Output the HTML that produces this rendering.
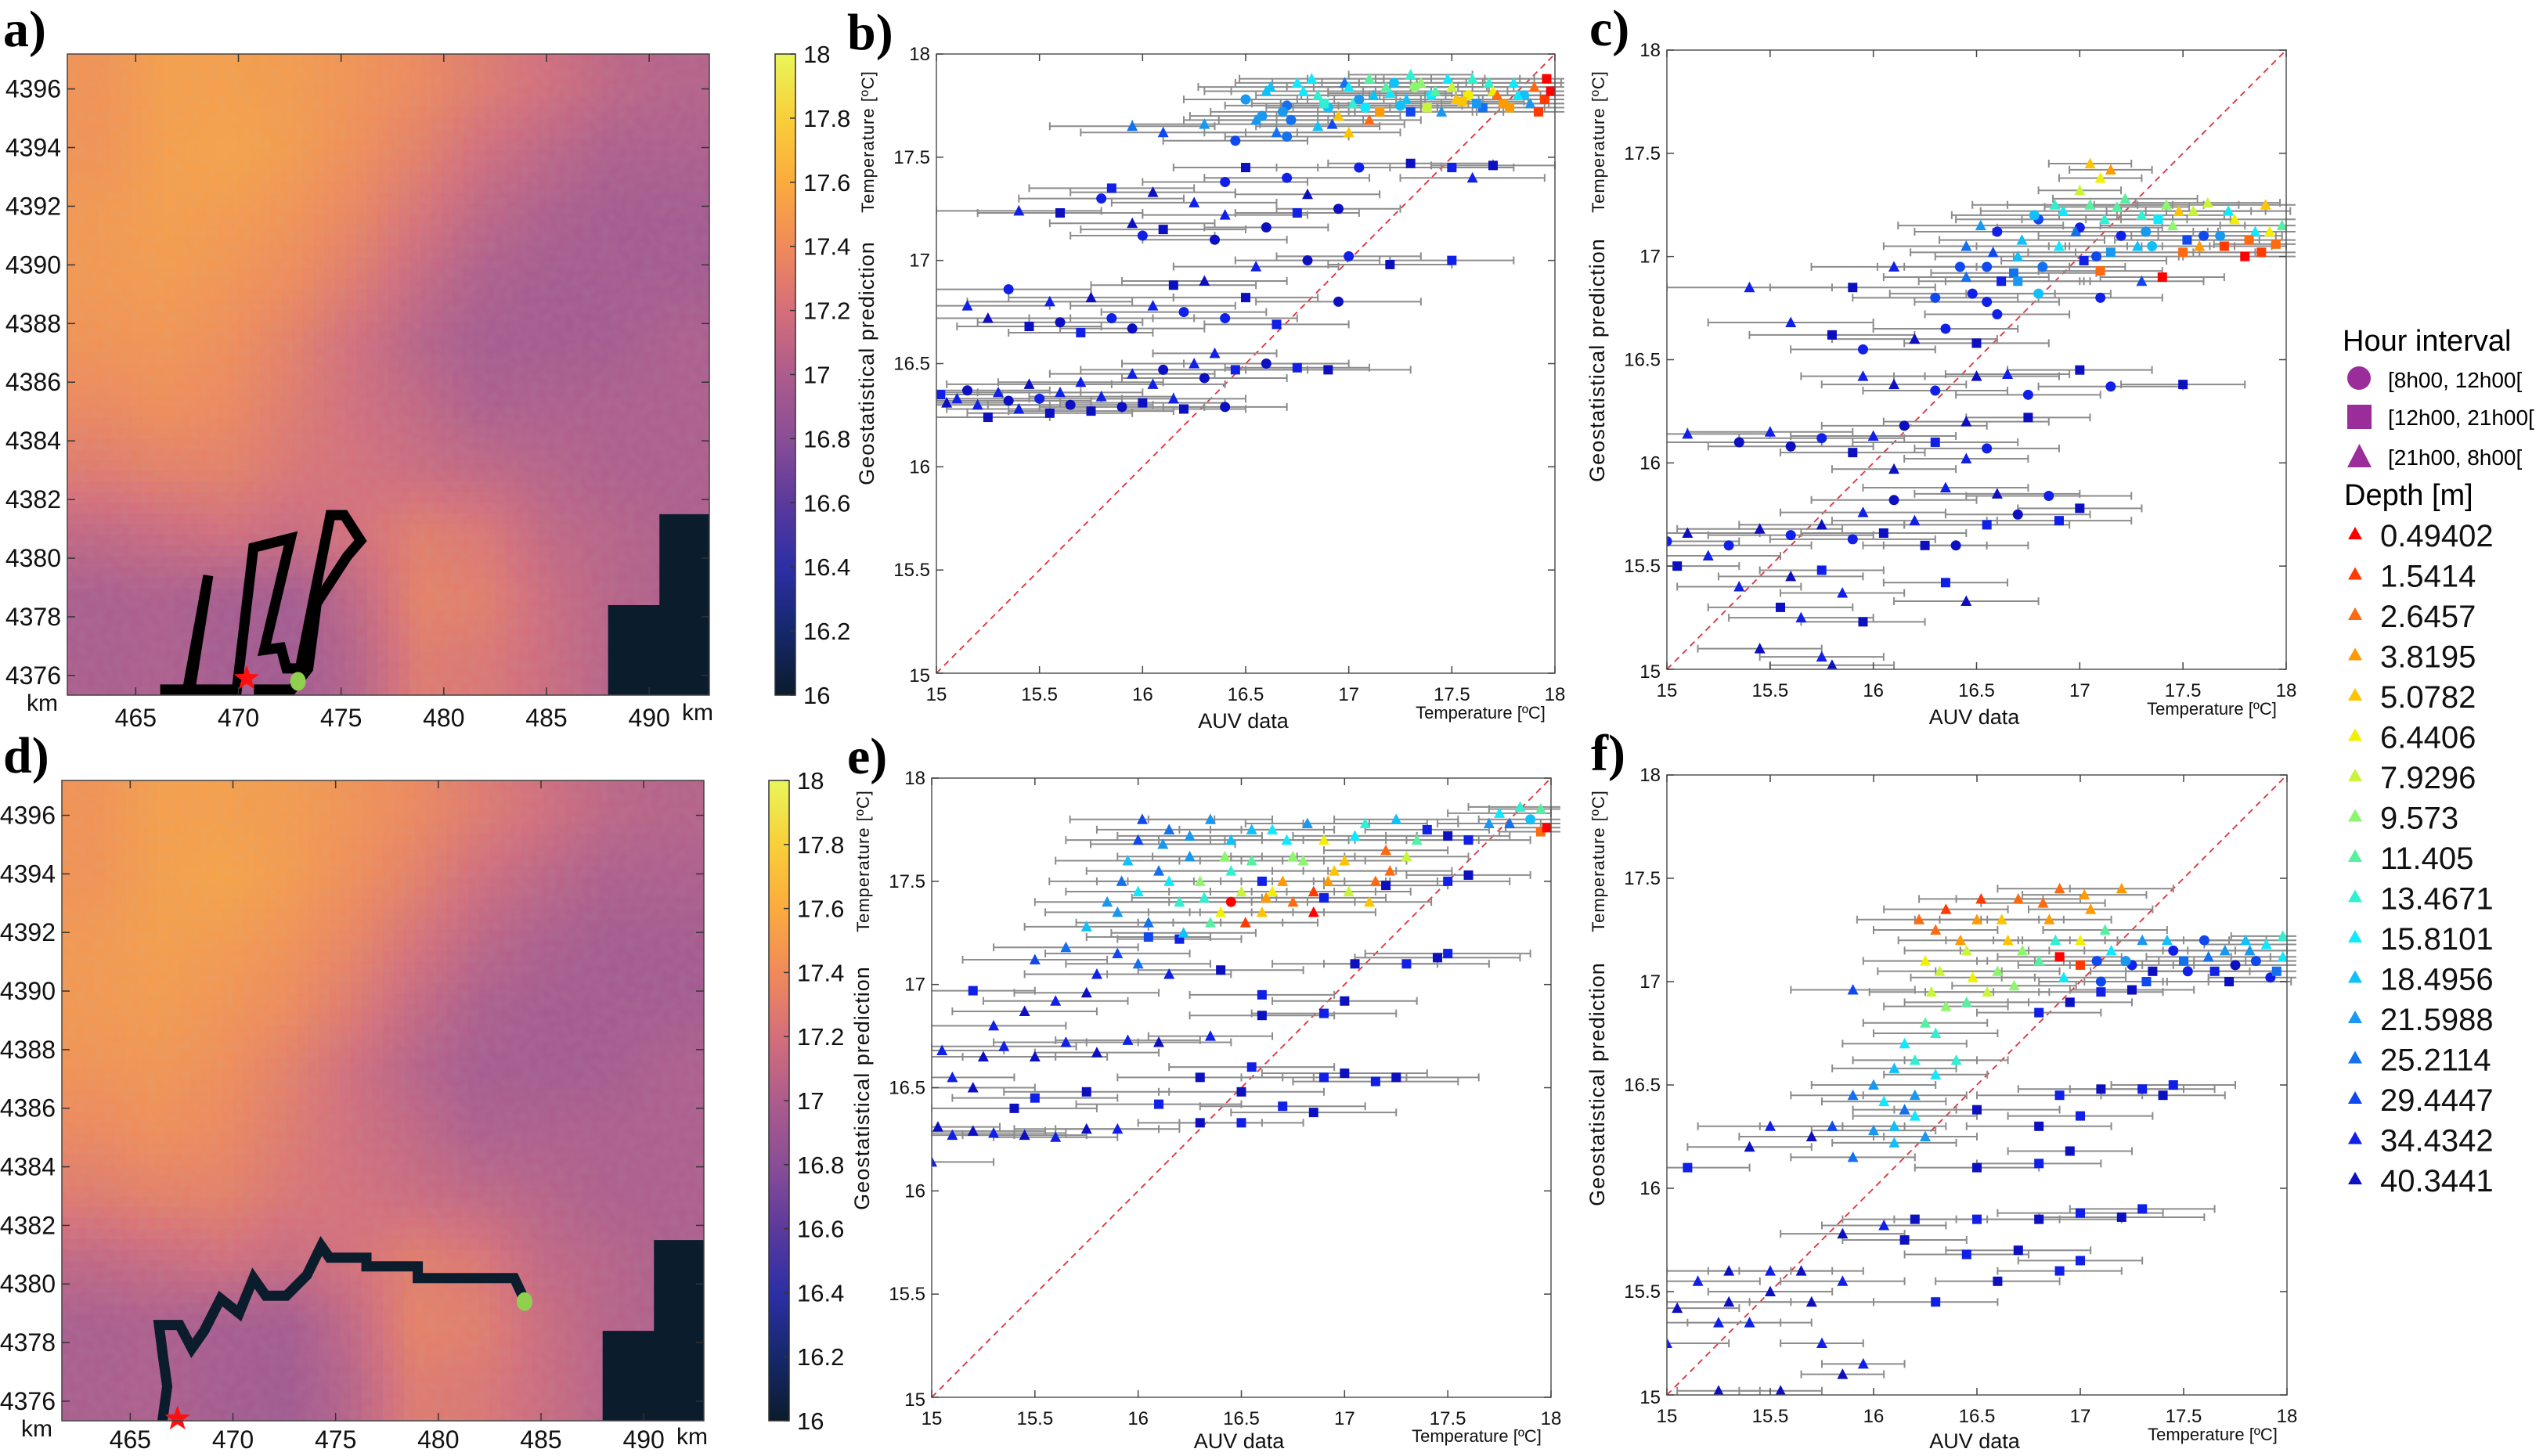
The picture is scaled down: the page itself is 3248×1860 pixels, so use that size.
<!DOCTYPE html>
<html><head><meta charset="utf-8"><style>
html,body{margin:0;padding:0;background:#fff;width:3248px;height:1860px;overflow:hidden;}
svg{display:block;font-family:"Liberation Sans",sans-serif;overflow:hidden;}
</style></head><body>
<svg id="fig" width="3248" height="1860" viewBox="0 0 3248 1860" xmlns="http://www.w3.org/2000/svg">
<defs>
<filter id="noise" x="0" y="0" width="1" height="1"><feTurbulence type="fractalNoise" baseFrequency="0.09" numOctaves="1" seed="3"/><feColorMatrix type="matrix" values="0 0 0 0 0.5  0 0 0 0 0.5  0 0 0 0 0.5  0 0 0 0.5 0"/></filter>
<linearGradient id="cbgrad" x1="0" y1="1" x2="0" y2="0">
<stop offset="0" stop-color="#0b1c2c"/><stop offset="0.1" stop-color="#15286c"/><stop offset="0.2" stop-color="#2d2fa6"/><stop offset="0.3" stop-color="#5b3a9c"/><stop offset="0.4" stop-color="#8a4e96"/><stop offset="0.5" stop-color="#ad5c8c"/><stop offset="0.6" stop-color="#d56e7a"/><stop offset="0.7" stop-color="#f08a5a"/><stop offset="0.8" stop-color="#fbab3e"/><stop offset="0.9" stop-color="#f9cf3a"/><stop offset="1" stop-color="#e9f65a"/>
</linearGradient>
</defs>
<g id="root"></g>
<g font-family="Liberation Sans, sans-serif">
<text x="2992" y="448" font-size="38">Hour interval</text>
<circle cx="3013" cy="483" r="15" fill="#9b2d9b"/>
<text x="3050" y="495" font-size="28">[8h00, 12h00[</text>
<rect x="2998" y="517" width="31" height="31" fill="#9b2d9b"/>
<text x="3050" y="543" font-size="28">[12h00, 21h00[</text>
<polygon points="2998,597 3029,597 3013.5,567" fill="#9b2d9b"/>
<text x="3050" y="594" font-size="28">[21h00, 8h00[</text>
<text x="2994" y="645" font-size="38">Depth [m]</text>
<g id="depthLegend"></g>
</g>
</svg>
<script>
// ---------- data ----------
const depthLabels = ["0.49402","1.5414","2.6457","3.8195","5.0782","6.4406","7.9296","9.573","11.405","13.4671","15.8101","18.4956","21.5988","25.2114","29.4447","34.4342","40.3441"];
const depthColors = ["#ff0000","#ff3a00","#ff6a10","#ff9a00","#ffc400","#f2f000","#c8f53a","#8ef56e","#55f0a0","#2ff0d0","#10e8ff","#10c0f8","#1898f0","#1570ee","#1048f0","#1020e8","#0d10c0"];
const cbTicks = [16,16.2,16.4,16.6,16.8,17,17.2,17.4,17.6,17.8,18];
const mapXTicks = [465,470,475,480,485,490];
const mapYTicks = [4376,4378,4380,4382,4384,4386,4388,4390,4392,4394,4396];
const scTicks = [15,15.5,16,16.5,17,17.5,18];
// SST field grid (rows top->bottom, cols left->right), degC
const sstRow0 = [17.45,17.52,17.52,17.5,17.45,17.38,17.28,17.18,17.08,17.04];
const sstRow1 = [17.45,17.52,17.55,17.5,17.42,17.32,17.18,17.08,17.0,17.0];
const sstRow2 = [17.48,17.52,17.5,17.45,17.36,17.22,17.08,17.0,16.95,16.95];
const sstRow3 = [17.48,17.5,17.46,17.4,17.28,17.12,17.0,16.95,16.95,16.95];
const sstRow4 = [17.45,17.46,17.42,17.32,17.18,17.05,16.96,16.95,16.95,17.0];
const sstRow5 = [17.38,17.42,17.38,17.28,17.18,17.1,17.0,17.0,17.0,17.0];
const sstRow6 = [17.28,17.32,17.32,17.24,17.2,17.15,17.1,17.05,17.0,17.0];
const sstRow7 = [17.1,17.14,17.18,17.14,17.2,17.3,17.25,17.1,17.05,17.0];
const sstRow8 = [16.98,17.0,16.96,16.95,17.1,17.33,17.3,17.15,17.05,17.0];
const sstRow9 = [16.98,17.0,16.95,16.93,17.05,17.28,17.25,17.15,17.05,17.0];
// AUV tracks (km)
const trackAx = [466.44,467.52,468.53,467.65,469.92,470.73,472.55,471.26,472.07,472.34,473.0,473.4,474.48,475.15,475.95,475.28,473.81,473.4,472.6,471.0];
const trackAy = [4375.52,4375.52,4379.41,4375.52,4375.52,4380.36,4380.68,4376.87,4376.95,4376.24,4376.24,4377.67,4381.47,4381.47,4380.6,4380.05,4378.46,4376.24,4375.52,4375.52];
const trackDx = [466.6,466.8,466.6,466.4,467.4,468.0,468.6,469.4,470.3,471.0,471.6,472.6,473.6,474.3,474.7,476.5,476.5,479.0,479.0,483.7,484.1];
const trackDy = [4375.5,4376.5,4377.5,4378.6,4378.6,4377.8,4378.4,4379.5,4379.0,4380.2,4379.6,4379.6,4380.3,4381.3,4380.9,4380.9,4380.6,4380.6,4380.2,4380.2,4379.6];
// scatter panels: AUV x, prediction y, error half-width, shape (0 circle,1 square,2 triangle), depth index
const bX=[15.02,15.05,15.1,15.15,15.2,15.25,15.3,15.35,15.4,15.45,15.5,15.55,15.6,15.65,15.7,15.75,15.8,15.9,15.95,16.0,16.05,16.1,16.15,16.2,16.25,16.3,16.35,16.4,16.45,16.6,16.75,16.9,15.15,15.25,15.35,15.45,15.55,15.6,15.7,15.75,15.85,15.95,16.05,16.15,16.2,16.3,16.4,16.5,16.65,16.95,16.55,16.8,17.0,17.2,17.5,15.4,15.6,15.8,15.95,16.0,16.1,16.25,16.35,16.4,16.6,16.75,16.95,15.85,16.05,16.4,16.5,16.7,16.8,17.05,17.3,17.5,17.7,17.6,15.95,16.1,16.3,16.45,16.55,16.7,16.85,17.0,17.1,17.3,16.5,16.6,16.7,16.75,16.85,16.9,17.0,17.05,17.1,17.2,17.25,17.35,17.4,17.5,17.55,17.6,17.7,17.75,17.8,17.85,17.9,17.95,17.98,16.95,17.15,17.45,17.65,17.3];
const bY=[16.35,16.31,16.33,16.37,16.30,16.24,16.36,16.32,16.28,16.40,16.33,16.26,16.36,16.30,16.41,16.27,16.34,16.29,16.45,16.31,16.40,16.47,16.33,16.28,16.50,16.43,16.55,16.29,16.47,16.50,16.48,16.47,16.78,16.72,16.86,16.68,16.80,16.70,16.65,16.82,16.72,16.67,16.78,16.88,16.75,16.90,16.72,16.82,16.69,16.80,16.97,17.0,17.02,16.98,17.0,17.24,17.23,17.30,17.18,17.12,17.15,17.28,17.10,17.22,17.16,17.23,17.25,17.35,17.33,17.38,17.45,17.40,17.32,17.45,17.47,17.45,17.46,17.40,17.65,17.62,17.66,17.58,17.68,17.60,17.65,17.62,17.68,17.72,17.78,17.82,17.75,17.86,17.80,17.74,17.84,17.78,17.88,17.81,17.75,17.86,17.80,17.84,17.77,17.88,17.82,17.76,17.86,17.80,17.84,17.78,17.82,17.70,17.72,17.72,17.74,17.90];
const bE=[.3,.3,.35,.4,.35,.3,.4,.4,.35,.4,.4,.4,.4,.4,.4,.4,.35,.4,.4,.4,.35,.4,.35,.3,.35,.4,.3,.3,.35,.4,.35,.4,.4,.4,.4,.35,.4,.4,.35,.4,.4,.35,.4,.4,.4,.4,.35,.35,.35,.4,.4,.35,.35,.3,.3,.4,.4,.4,.4,.35,.4,.4,.35,.4,.3,.3,.3,.4,.4,.4,.35,.4,.35,.4,.4,.3,.3,.35,.4,.4,.35,.35,.35,.3,.3,.25,.25,.3,.3,.3,.3,.3,.3,.3,.3,.3,.3,.3,.3,.3,.3,.3,.3,.3,.3,.3,.3,.3,.3,.3,.3,.3,.3,.3,.3,.3];
const bS=[1,2,2,0,2,1,2,0,2,2,0,1,2,0,2,1,2,0,2,1,2,0,2,1,2,0,2,0,1,0,1,1,2,2,0,1,2,0,1,2,0,0,2,1,0,2,0,1,1,0,2,0,0,1,1,2,1,0,2,0,1,2,0,2,0,1,0,1,2,0,1,0,2,0,1,1,1,2,2,2,2,0,2,0,2,2,2,1,0,2,0,2,2,0,2,0,2,2,0,2,0,2,1,2,2,1,2,0,2,1,1,2,1,2,1,2];
const bD=[15,16,15,16,15,16,15,16,15,16,15,16,15,16,15,16,15,16,15,16,15,16,15,16,15,16,15,16,15,16,15,16,15,16,15,16,15,16,15,16,15,16,15,16,15,16,15,16,15,16,15,16,15,16,15,15,16,15,16,15,16,15,16,15,16,15,16,15,16,15,16,15,16,15,16,15,16,15,13,14,12,14,12,13,11,4,2,14,12,11,13,10,9,11,10,12,8,10,11,7,10,6,4,9,5,3,10,11,2,1,0,4,3,12,13,9];
const bX2=[16.62,16.68,16.78,16.88,16.98,17.08,17.18,17.28,17.38,17.48,17.58,17.68,17.78,17.88,17.96,16.72,16.92,17.12,17.32,17.52,17.72,17.92,16.58,16.82,17.02,17.22,17.42,17.62,17.82,16.65];
const bY2=[17.84,17.72,17.82,17.76,17.86,17.74,17.84,17.78,17.74,17.88,17.8,17.86,17.74,17.76,17.88,17.68,17.66,17.8,17.84,17.78,17.8,17.72,17.7,17.88,17.76,17.86,17.82,17.76,17.8,17.62];
const bE2=[.35,.35,.35,.35,.35,.35,.35,.35,.35,.35,.35,.35,.35,.3,.3,.35,.35,.35,.35,.35,.35,.3,.35,.35,.35,.35,.35,.35,.3,.35];
const bS2=[2,0,2,1,2,0,2,2,1,2,0,2,1,2,1,0,2,2,0,2,2,1,0,2,2,0,2,1,2,2];
const bD2=[11,12,10,9,13,10,8,11,6,10,5,9,3,12,0,13,14,11,7,4,2,1,12,10,9,11,8,12,10,13];
const cX=[15.8,15.75,15.45,15.65,15.95,15.85,15.55,15.35,15.6,16.35,16.45,15.75,15.05,15.2,16.25,15.0,15.1,15.3,15.45,15.6,15.75,15.9,16.05,16.2,16.4,16.55,16.7,16.9,17.0,16.85,16.6,16.35,16.1,15.95,15.1,15.35,15.5,15.6,15.75,15.9,16.0,16.15,16.3,16.45,16.55,16.1,16.45,16.75,15.95,16.1,16.3,16.5,16.75,17.0,17.15,17.5,16.65,15.6,15.8,15.95,16.2,16.35,16.5,16.6,15.4,15.9,16.1,16.3,16.45,16.55,16.7,16.8,17.1,17.3,16.45,16.6,16.7,16.8,16.9,17.0,17.05,17.15,17.2,17.3,17.35,17.45,17.5,17.55,17.6,17.7,17.75,17.8,17.85,17.9,17.95,17.98,17.05,17.1,17.0,17.15,17.4,17.1,16.55];
const cY=[15.02,15.06,15.1,15.25,15.23,15.37,15.3,15.4,15.45,15.42,15.33,15.48,15.5,15.55,15.6,15.62,15.66,15.6,15.68,15.65,15.7,15.63,15.66,15.72,15.6,15.7,15.75,15.72,15.78,15.84,15.85,15.88,15.82,15.76,16.14,16.1,16.15,16.08,16.12,16.05,16.13,16.18,16.1,16.2,16.07,15.97,16.02,16.22,16.42,16.38,16.35,16.42,16.33,16.45,16.37,16.38,16.43,16.68,16.62,16.55,16.6,16.65,16.58,16.72,16.85,16.85,16.95,16.8,16.9,16.78,16.88,16.82,16.8,16.88,17.05,17.12,17.0,17.18,17.05,17.14,17.25,17.02,17.1,17.2,17.05,17.15,17.02,17.22,17.1,17.05,17.18,17.0,17.12,17.25,17.06,17.15,17.45,17.38,17.32,17.42,16.9,16.93,16.95];
const cE=[.3,.3,.3,.35,.3,.3,.35,.3,.35,.3,.35,.3,.3,.35,.3,.35,.35,.4,.4,.4,.4,.4,.4,.4,.35,.4,.35,.35,.3,.4,.4,.4,.4,.4,.4,.4,.4,.4,.4,.35,.4,.4,.4,.4,.35,.3,.3,.3,.3,.35,.35,.4,.35,.35,.35,.3,.3,.4,.4,.35,.4,.35,.35,.35,.4,.4,.4,.4,.4,.35,.35,.35,.3,.3,.4,.4,.4,.4,.4,.4,.4,.4,.4,.4,.4,.35,.35,.35,.35,.3,.3,.3,.3,.3,.3,.3,.2,.2,.2,.2,.3,.3,.4];
const cS=[2,2,2,2,1,2,1,2,2,1,2,1,1,2,1,0,2,0,2,0,2,0,1,2,0,1,0,1,1,0,2,2,0,2,2,0,2,0,0,1,2,0,1,2,0,2,2,1,2,2,0,2,0,1,0,1,2,2,1,0,2,0,1,0,2,1,2,0,2,0,1,0,0,2,2,0,2,0,2,0,2,1,0,2,0,2,1,2,0,1,2,1,2,2,1,2,2,2,2,2,1,1,0];
const cD=[16,15,16,15,16,15,16,15,16,15,16,15,16,15,16,15,16,15,16,15,16,15,16,15,16,15,16,15,16,15,16,15,16,15,15,16,15,16,15,16,15,16,15,16,15,16,15,16,15,16,15,16,15,16,15,16,15,15,16,15,16,15,16,15,15,16,15,14,13,15,12,11,15,14,13,15,11,14,10,15,8,12,15,9,11,7,2,6,14,1,5,0,10,4,2,8,4,5,6,3,0,2,14];
const cX2=[16.42,16.52,16.62,16.72,16.82,16.92,17.02,17.12,17.22,17.32,17.42,17.52,17.62,17.72,17.82,17.92,16.48,16.68,16.88,17.08,17.28,17.48,17.68,17.88,16.58,16.78,16.98,17.18,17.38,17.58];
const cY2=[16.95,17.15,16.88,17.08,16.95,17.22,16.98,17.18,17.28,17.12,17.25,17.08,17.26,17.22,17.08,17.12,16.82,16.92,17.25,17.0,17.05,17.22,17.1,17.02,17.02,17.2,17.12,17.24,17.18,17.05];
const cE2=[.4,.4,.4,.4,.4,.4,.4,.4,.35,.35,.35,.35,.35,.3,.3,.3,.4,.4,.4,.4,.35,.35,.3,.3,.4,.4,.4,.35,.35,.35];
const cS2=[0,2,1,2,0,2,1,2,2,0,2,1,2,2,1,2,0,1,2,0,2,2,0,1,2,0,2,2,1,2];
const cD2=[14,12,15,11,13,10,15,9,8,12,7,14,6,10,2,5,15,13,9,14,11,4,12,1,14,11,13,8,10,3];
const eX=[15.0,15.03,15.1,15.2,15.3,15.45,15.6,15.75,15.9,16.3,16.5,15.4,15.5,15.75,16.1,16.5,16.7,16.85,16.9,17.0,17.15,17.25,16.55,16.3,15.1,15.2,15.05,15.25,15.35,15.5,15.65,15.8,15.95,16.1,16.35,15.3,15.45,15.6,15.75,15.2,16.6,16.9,17.0,16.6,17.05,17.3,17.45,17.5,16.4,15.5,15.65,15.8,15.9,16.0,16.15,16.05,16.2,15.75,15.9,16.0,16.1,16.2,16.25,16.3,16.4,16.45,16.5,16.55,16.6,16.65,16.7,16.75,16.8,16.85,16.9,17.0,17.1,17.2,17.25,16.15,16.35,16.0,16.45,16.6,16.9,17.2,17.5,17.6,17.4,17.5,17.6,17.7,17.75,17.8,17.85,17.9,17.95,17.98,17.95];
const eY=[16.14,16.31,16.27,16.29,16.28,16.27,16.26,16.3,16.3,16.33,16.33,16.4,16.45,16.48,16.42,16.48,16.41,16.38,16.55,16.57,16.53,16.55,16.6,16.55,16.55,16.5,16.68,16.65,16.7,16.65,16.72,16.67,16.73,16.72,16.75,16.8,16.87,16.92,16.96,16.97,16.85,16.86,16.92,16.95,17.1,17.1,17.13,17.15,17.07,17.12,17.18,17.05,17.15,17.1,17.05,17.23,17.22,17.28,17.35,17.45,17.55,17.4,17.62,17.5,17.35,17.7,17.45,17.6,17.35,17.75,17.5,17.4,17.6,17.45,17.7,17.6,17.78,17.65,17.8,17.75,17.8,17.7,17.4,17.5,17.42,17.48,17.5,17.53,17.75,17.72,17.7,17.78,17.83,17.78,17.86,17.8,17.85,17.76,17.74];
const eE=[.3,.3,.3,.35,.35,.3,.3,.35,.3,.3,.3,.4,.4,.4,.4,.4,.4,.4,.4,.4,.4,.4,.4,.4,.3,.3,.3,.35,.35,.35,.35,.3,.35,.35,.3,.35,.35,.35,.35,.3,.35,.35,.35,.35,.4,.4,.4,.4,.4,.35,.35,.35,.35,.35,.3,.3,.3,.3,.35,.35,.35,.35,.35,.35,.35,.35,.35,.35,.3,.3,.3,.3,.3,.3,.3,.3,.3,.3,.3,.35,.3,.35,.3,.3,.3,.3,.3,.3,.3,.3,.3,.25,.25,.25,.25,.25,.25,.2,.2];
const eS=[2,2,2,2,2,2,2,2,2,1,1,1,1,1,1,1,1,1,1,1,1,1,1,1,2,2,2,2,2,2,2,2,2,2,2,2,2,2,2,1,1,1,1,1,1,1,1,1,1,2,2,2,2,2,2,1,1,2,2,2,2,2,2,2,2,2,2,2,2,2,2,2,2,2,2,2,2,2,2,2,2,2,0,1,1,1,1,1,1,1,1,2,2,2,2,0,2,1,1];
const eD=[15,16,15,16,15,16,15,16,15,16,15,16,15,16,15,16,15,16,15,16,15,16,15,16,15,16,15,16,15,16,15,16,15,16,15,15,16,15,16,15,16,15,16,15,16,15,16,15,16,14,13,15,14,13,15,14,15,11,12,10,13,9,12,7,5,11,6,8,4,10,3,2,7,1,5,4,9,2,11,13,12,14,0,15,15,16,15,16,15,16,15,12,10,13,9,11,8,0,2];
const eX2=[15.85,15.95,16.05,16.15,16.25,16.35,16.45,16.55,16.65,16.75,16.85,16.95,17.05,17.15,17.3,15.92,16.12,16.32,16.52,16.72,16.92,17.12,16.02,16.22,16.42,16.62,16.82,17.02,17.22,17.35];
const eY2=[17.4,17.6,17.3,17.5,17.72,17.3,17.55,17.75,17.45,17.62,17.35,17.55,17.72,17.5,17.62,17.5,17.68,17.42,17.3,17.7,17.5,17.4,17.8,17.25,17.62,17.42,17.78,17.45,17.55,17.7];
const eE2=[.35,.35,.35,.35,.35,.35,.35,.35,.3,.3,.3,.3,.3,.3,.3,.35,.35,.35,.35,.3,.3,.3,.35,.35,.35,.3,.3,.3,.3,.3];
const eS2=[2,2,2,2,2,2,2,2,2,2,2,2,2,2,2,2,2,2,2,2,2,2,2,2,2,2,2,2,2,2];
const eD2=[12,11,13,10,12,8,9,11,5,7,0,4,10,2,6,13,12,9,1,10,3,4,14,11,7,3,12,6,2,8];
const fX=[15.25,15.0,15.05,15.15,15.3,15.4,15.5,15.25,15.3,15.5,15.7,15.85,15.85,15.95,15.55,15.75,15.65,16.3,16.6,16.9,16.15,16.45,16.7,17.0,16.2,16.5,16.8,17.0,17.2,17.3,15.85,16.05,15.1,15.4,15.5,15.7,15.8,15.9,16.0,16.1,16.2,16.5,16.8,16.95,17.0,16.5,16.9,17.1,17.3,17.4,17.45,16.8,15.9,16.0,16.1,16.15,16.2,16.25,16.3,16.35,16.45,16.55,16.05,16.8,16.95,17.1,17.25,15.9,16.25,16.3,16.35,16.45,16.5,16.6,16.65,16.7,16.8,16.85,16.9,17.0,17.05,17.1,17.15,17.2,17.25,17.3,17.35,17.45,17.5,17.6,17.65,17.7,17.75,17.8,17.85,17.9,17.95,17.98,16.9,17.0];
const fY=[15.02,15.25,15.42,15.55,15.45,15.35,15.5,15.35,15.6,15.6,15.45,15.55,15.1,15.15,15.02,15.25,15.6,15.45,15.55,15.6,15.75,15.68,15.7,15.65,15.85,15.85,15.85,15.88,15.86,15.9,15.78,15.82,16.1,16.2,16.3,16.25,16.3,16.15,16.28,16.22,16.35,16.1,16.12,16.18,16.35,16.38,16.45,16.48,16.48,16.45,16.5,16.3,16.45,16.5,16.58,16.7,16.62,16.8,16.75,16.88,16.9,16.95,16.42,16.85,16.9,16.95,16.96,16.96,17.1,17.25,17.35,17.15,17.3,17.05,17.2,17.4,17.1,17.3,17.45,17.2,17.35,17.0,17.15,17.45,17.08,17.2,17.05,17.15,17.1,17.2,17.05,17.15,17.08,17.2,17.1,17.18,17.05,17.22,17.12,17.08];
const fE=[.2,.3,.3,.3,.3,.3,.3,.3,.3,.3,.3,.3,.2,.2,.2,.2,.3,.3,.3,.3,.3,.3,.35,.3,.35,.4,.4,.4,.4,.35,.3,.3,.3,.3,.35,.35,.35,.3,.3,.3,.3,.3,.3,.3,.35,.4,.4,.4,.35,.3,.3,.35,.3,.3,.3,.3,.3,.3,.3,.3,.3,.3,.3,.3,.3,.3,.3,.3,.3,.3,.3,.3,.3,.3,.3,.3,.3,.3,.3,.3,.3,.3,.3,.25,.3,.3,.3,.3,.3,.3,.3,.3,.3,.3,.3,.3,.3,.25,.3,.3];
const fS=[2,2,2,2,2,2,2,2,2,2,2,2,2,2,2,2,2,1,1,1,1,1,1,1,1,1,1,1,1,1,2,2,1,2,2,2,2,2,2,2,2,1,1,1,1,1,1,1,1,1,1,1,2,2,2,2,2,2,2,2,2,2,2,1,1,1,1,2,2,2,2,2,2,2,2,2,2,2,2,2,2,0,2,2,0,2,1,0,1,0,1,2,0,2,0,2,1,2,1,1];
const fD=[16,15,16,15,16,15,16,15,16,15,16,15,16,15,16,15,16,15,16,15,16,15,16,15,16,15,16,15,16,15,16,15,15,16,15,16,14,13,12,11,10,16,15,16,15,16,15,16,15,16,15,16,13,12,11,10,9,8,9,7,8,6,10,15,16,15,16,14,5,2,1,6,3,7,4,2,8,3,2,5,3,14,10,3,15,12,16,15,13,14,15,12,16,11,14,10,13,9,0,1];
const fX2=[16.22,16.32,16.42,16.52,16.62,16.72,16.82,16.92,17.02,17.12,17.22,17.32,17.42,17.52,17.62,17.72,17.82,17.92,17.98,16.28,16.48,16.68,16.88,17.08,16.1,16.2,16.3,16.4,16.15,16.25];
const fY2=[17.3,17.05,17.2,17.4,17.3,17.15,17.38,17.02,17.42,17.25,17.1,17.0,17.2,17.05,17.12,17.0,17.15,17.02,17.12,16.95,17.02,16.98,17.2,17.1,16.3,16.45,16.55,16.62,16.38,16.25];
const fE2=[.3,.3,.3,.3,.3,.3,.3,.3,.3,.3,.3,.3,.3,.3,.3,.3,.3,.3,.25,.3,.3,.3,.3,.3,.25,.25,.25,.25,.25,.25];
const fS2=[2,2,2,2,2,2,2,2,2,2,0,1,2,0,2,1,2,0,2,2,2,2,2,0,2,2,2,2,2,2];
const fD2=[2,6,3,1,4,7,2,10,3,8,12,14,11,15,13,16,12,15,10,6,5,7,9,14,11,12,10,9,13,12];

// ---------- helpers ----------
const NS="http://www.w3.org/2000/svg";
const root=document.getElementById('root');
function mk(tag,attrs,parent){const e=document.createElementNS(NS,tag);for(const k in attrs)e.setAttribute(k,attrs[k]);(parent||root).appendChild(e);return e;}
const cmapStops=[[16,[11,28,44]],[16.2,[21,40,108]],[16.4,[45,47,166]],[16.6,[91,58,156]],[16.8,[138,78,150]],[17,[173,92,140]],[17.2,[213,110,122]],[17.4,[240,138,90]],[17.6,[251,171,62]],[17.8,[249,207,58]],[18,[233,246,90]]];
function cmap(v){for(let i=0;i<cmapStops.length-1;i++){const a=cmapStops[i],b=cmapStops[i+1];if(v<=b[0]){const t=Math.max(0,(v-a[0])/(b[0]-a[0]));const c=a[1].map((x,j)=>Math.round(x+(b[1][j]-x)*t));return `rgb(${c})`;}}return 'rgb(233,246,90)';}

// ---------- map panels ----------
const sstGrid=[sstRow0,sstRow1,sstRow2,sstRow3,sstRow4,sstRow5,sstRow6,sstRow7,sstRow8,sstRow9];
function sstAt(u,v){ // u,v in [0,1] across grid, bilinear between cell centres
  const nr=sstGrid.length,nc=sstGrid[0].length;
  let fx=Math.min(Math.max(u*nc-0.5,0),nc-1),fy=Math.min(Math.max(v*nr-0.5,0),nr-1);
  const x0=Math.floor(fx),y0=Math.floor(fy),x1=Math.min(x0+1,nc-1),y1=Math.min(y0+1,nr-1),tx=fx-x0,ty=fy-y0;
  const a=sstGrid[y0][x0]*(1-tx)+sstGrid[y0][x1]*tx,b=sstGrid[y1][x0]*(1-tx)+sstGrid[y1][x1]*tx;
  return a*(1-ty)+b*ty;
}
function mapPanel(id,P,tx,ty,star,dot,trackColor,letter){
  const g=mk('g',{});
  
  
  const sx=v=>P.x0+(v-461.67)/(492.93-461.67)*(P.x1-P.x0);
  const sy=v=>P.y1-(v-4375.33)/(4397.19-4375.33)*(P.y1-P.y0);
  const cp=mk('clipPath',{id:id+'clip'},g);mk('rect',{x:P.x0,y:P.y0,width:P.x1-P.x0,height:P.y1-P.y0},cp);
  const hg=mk('g',{'clip-path':`url(#${id}clip)`},g);
  const N=60,cw=(P.x1-P.x0)/N,ch=(P.y1-P.y0)/N;
  for(let r=0;r<N;r++)for(let c=0;c<N;c++){
    const cell=mk('rect',{x:(P.x0+c*cw).toFixed(1),y:(P.y0+r*ch).toFixed(1),width:(cw+0.6).toFixed(1),height:(ch+0.6).toFixed(1),fill:cmap(sstAt((c+0.5)/N,(r+0.5)/N))},hg);
    
    
  }
  mk('rect',{x:P.x0,y:P.y0,width:P.x1-P.x0,height:P.y1-P.y0,filter:'url(#noise)',opacity:0.3},hg);
  const land=mk('path',{d:`M${sx(488)},${P.y1} L${sx(488)},${sy(4378.4)} L${sx(490.5)},${sy(4378.4)} L${sx(490.5)},${sy(4381.5)} L${P.x1},${sy(4381.5)} L${P.x1},${P.y1} Z`,fill:'#0b1c2c'},hg);
  
  
  const tr=mk('polyline',{points:tx.map((v,i)=>sx(v)+','+sy(ty[i])).join(' '),fill:'none',stroke:trackColor,'stroke-width':13,'stroke-linejoin':'miter','stroke-linecap':'square'},hg);
  
  
  const d=mk('ellipse',{cx:sx(dot[0]),cy:sy(dot[1]),rx:10,ry:12,fill:'#8fd14f'},hg);
  
  
  const cx=sx(star[0]),cy=sy(star[1]),R=17,r=7;let pts=[];
  for(let i=0;i<10;i++){const a=-Math.PI/2+i*Math.PI/5,rr=i%2?r:R;pts.push((cx+rr*Math.cos(a))+','+(cy+rr*Math.sin(a)));}
  const st=mk('polygon',{points:pts.join(' '),fill:'#ff1010'},g);
  
  
  mk('rect',{x:P.x0,y:P.y0,width:P.x1-P.x0,height:P.y1-P.y0,fill:'none',stroke:'#444','stroke-width':1.5},g);
  mapXTicks.forEach(t=>{const x=sx(t);mk('line',{x1:x,x2:x,y1:P.y1,y2:P.y1-10,stroke:'#333','stroke-width':1.5},g);mk('line',{x1:x,x2:x,y1:P.y0,y2:P.y0+10,stroke:'#333','stroke-width':1.5},g);
    const tl=mk('text',{x:x,y:Math.min(P.y1+40,1850),'font-size':32,'text-anchor':'middle',fill:'#111'},g);tl.textContent=t;
    
    });
  mapYTicks.forEach(t=>{const y=sy(t);mk('line',{x1:P.x0,x2:P.x0+10,y1:y,y2:y,stroke:'#333','stroke-width':1.5},g);mk('line',{x1:P.x1,x2:P.x1-10,y1:y,y2:y,stroke:'#333','stroke-width':1.5},g);
    const tl=mk('text',{x:P.x0-8,y:y+11,'font-size':32,'text-anchor':'end',fill:'#111'},g);tl.textContent=t;
    
    });
  const k1=mk('text',{x:P.x0-32,y:P.y1+20,'font-size':30,'text-anchor':'middle',fill:'#111'},g);k1.textContent='km';
  
  
  const k2=mk('text',{x:P.x1-15,y:Math.min(P.y1+32,1845),'font-size':30,'text-anchor':'middle',fill:'#111'},g);k2.textContent='km';
  
  
  const cb=mk('rect',{x:P.cx,y:P.y0,width:26,height:P.y1-P.y0,fill:'url(#cbgrad)',stroke:'#333','stroke-width':1.5},g);
  
  
  cbTicks.forEach(t=>{const y=P.y1-(t-16)/2*(P.y1-P.y0);mk('line',{x1:P.cx+26,x2:P.cx+19,y1:y,y2:y,stroke:'#333','stroke-width':1.5},g);
    const tl=mk('text',{x:P.cx+36,y:y+11,'font-size':31,fill:'#111'},g);tl.textContent=String(t);
    
    });
  const L=mk('text',{x:4,y:P.y0-10,'font-size':66,'font-weight':'bold','font-family':'Liberation Serif, serif',fill:'#000'},g);L.textContent=letter;
  
  
}
mapPanel('map-panel-a',{x0:86,x1:906,y0:69,y1:888,cx:990},trackAx,trackAy,[470.4,4375.9],[472.9,4375.8],'#000','a)');
mapPanel('map-panel-d',{x0:79,x1:899,y0:997,y1:1815,cx:982},trackDx,trackDy,[467.3,4375.4],[484.2,4379.4],'#0b1c2c','d)');

// ---------- scatter panels ----------
function marker(g,s,x,y,col){
  let m;
  if(s===0)m=mk('circle',{cx:x,cy:y,r:6.5,fill:col},g);
  else if(s===1)m=mk('rect',{x:x-6,y:y-6,width:12,height:12,fill:col},g);
  else m=mk('polygon',{points:`${x-7},${y+6} ${x+7},${y+6} ${x},${y-7.5}`,fill:col},g);
  return m;
}
function scatterPanel(id,P,X,Y,E,S,D,letter,lp){
  const g=mk('g',{});
  
  
  const sx=v=>P.x0+(v-15)/3*(P.x1-P.x0), sy=v=>P.y1-(v-15)/3*(P.y1-P.y0);
  const cp=mk('clipPath',{id:id+'clip'},g);mk('rect',{x:P.x0,y:P.y0-10,width:P.x1-P.x0+12,height:P.y1-P.y0+10},cp);
  const pg=mk('g',{'clip-path':`url(#${id}clip)`},g);
  const diag=mk('line',{x1:sx(15),y1:sy(15),x2:sx(18),y2:sy(18),stroke:'#e0303a','stroke-width':1.8,'stroke-dasharray':'8,6'},pg);
  
  
  const eg=mk('g',{stroke:'#8c8c8c','stroke-width':2},pg);
  X.forEach((v,i)=>{const y=sy(Y[i]),a=sx(v-E[i]),b=sx(v+E[i]);
    const eb=mk('path',{d:`M${a},${y}H${b}M${a},${y-5}V${y+5}M${b},${y-5}V${y+5}`},eg);
    
    });
  const order=X.map((v,i)=>i).sort((p,q)=>D[q]-D[p]);
  order.forEach(i=>{const m=marker(pg,S[i],sx(X[i]),sy(Y[i]),depthColors[D[i]]);
    
    });
  mk('rect',{x:P.x0,y:P.y0,width:P.x1-P.x0,height:P.y1-P.y0,fill:'none',stroke:'#555','stroke-width':1.5},g);
  scTicks.forEach(t=>{const x=sx(t),y=sy(t);
    mk('line',{x1:x,x2:x,y1:P.y1,y2:P.y1-9,stroke:'#444','stroke-width':1.5},g);mk('line',{x1:x,x2:x,y1:P.y0,y2:P.y0+9,stroke:'#444','stroke-width':1.5},g);
    mk('line',{x1:P.x0,x2:P.x0+9,y1:y,y2:y,stroke:'#444','stroke-width':1.5},g);mk('line',{x1:P.x1,x2:P.x1-9,y1:y,y2:y,stroke:'#444','stroke-width':1.5},g);
    const xl=mk('text',{x:x,y:P.y1+35,'font-size':24,'text-anchor':'middle',fill:'#111'},g);xl.textContent=String(t);
    
    
    const yl=mk('text',{x:P.x0-8,y:y+(t===15?11:8),'font-size':24,'text-anchor':'end',fill:'#111'},g);yl.textContent=String(t);
    
    });
  const ax=P.x0-80;
  const t1=mk('text',{x:ax,y:lp.gy,'font-size':27,'text-anchor':'middle',transform:`rotate(-90 ${ax} ${lp.gy})`,fill:'#111','letter-spacing':'1'},g);t1.textContent='Geostatistical prediction';
  
  
  const t2=mk('text',{x:ax,y:lp.ty,'font-size':22,'text-anchor':'middle',transform:`rotate(-90 ${ax} ${lp.ty})`,fill:'#111','letter-spacing':'1'},g);t2.textContent='Temperature [ºC]';
  
  
  const t3=mk('text',{x:(P.x0+P.x1)/2-3,y:Math.min(P.y1+70,1850),'font-size':27,'text-anchor':'middle',fill:'#111'},g);t3.textContent='AUV data';
  
  
  const t4=mk('text',{x:P.x1-95,y:Math.min(P.y1+58,1842),'font-size':22,'text-anchor':'middle',fill:'#111'},g);t4.textContent='Temperature [ºC]';
  
  
  const L=mk('text',{x:lp.lx,y:P.y0-6,'font-size':66,'font-weight':'bold','font-family':'Liberation Serif, serif',fill:'#000'},g);L.textContent=letter;
  
  
}
scatterPanel('scatter-panel-b',{x0:1196,x1:1986,y0:69,y1:860},bX.concat(bX2),bY.concat(bY2),bE.concat(bE2),bS.concat(bS2),bD.concat(bD2),'b)',{gy:464,ty:181,lx:1082});
scatterPanel('scatter-panel-c',{x0:2129,x1:2920,y0:64,y1:855},cX.concat(cX2),cY.concat(cY2),cE.concat(cE2),cS.concat(cS2),cD.concat(cD2),'c)',{gy:460,ty:181,lx:2030});
scatterPanel('scatter-panel-e',{x0:1190,x1:1981,y0:994,y1:1785},eX.concat(eX2),eY.concat(eY2),eE.concat(eE2),eS.concat(eS2),eD.concat(eD2),'e)',{gy:1390,ty:1100,lx:1082});
scatterPanel('scatter-panel-f',{x0:2129,x1:2921,y0:990,y1:1782},fX.concat(fX2),fY.concat(fY2),fE.concat(fE2),fS.concat(fS2),fD.concat(fD2),'f)',{gy:1385,ty:1100,lx:2032});

// ---------- depth legend ----------
const dl=document.getElementById('depthLegend');
depthLabels.forEach((lab,i)=>{const y=698+i*51.5;
  const tri=mk('polygon',{points:`2999,${y-9} 3017,${y-9} 3008,${y-25}`,fill:depthColors[i]},dl);
  
  
  const t=mk('text',{x:3040,y:y,'font-size':40,fill:'#111'},dl);t.textContent=lab;
  
  });
</script>
</body></html>
